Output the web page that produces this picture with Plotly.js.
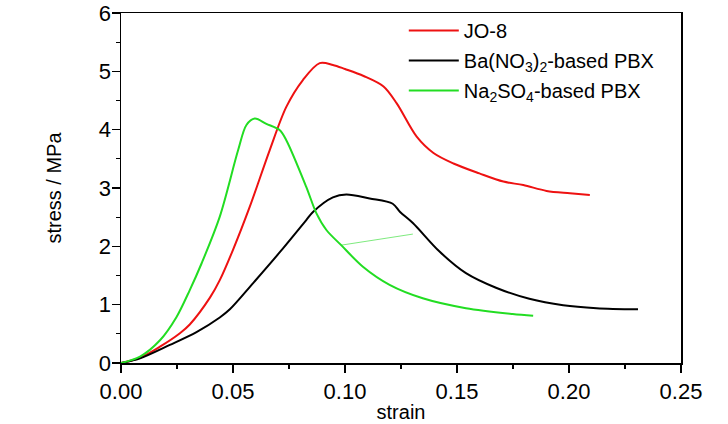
<!DOCTYPE html>
<html>
<head>
<meta charset="utf-8">
<script src="https://cdn.plot.ly/plotly-3.0.1.min.js"></script>
<style>
  html, body { margin: 0; padding: 0; background: #fff; }
  #chart { width: 728px; height: 424px; }
</style>
</head>
<body>
<div id="chart"></div>
<script>
// values
const jo8_strain = [0, 0.0085, 0.0174, 0.0263, 0.0307, 0.0397, 0.0441, 0.05, 0.0575, 0.0664, 0.0738, 0.0812, 0.0887, 0.0946, 0.1, 0.1083, 0.1172, 0.1231, 0.132, 0.1395, 0.1484, 0.160, 0.1707, 0.1796, 0.190, 0.2004, 0.2093]
const jo8_stress = [0, 0.09, 0.28, 0.51, 0.66, 1.12, 1.42, 1.94, 2.68, 3.65, 4.39, 4.85, 5.14, 5.11, 5.04, 4.92, 4.74, 4.45, 3.88, 3.60, 3.42, 3.25, 3.11, 3.05, 2.95, 2.91, 2.88]

const ba_strain = [0, 0.0085, 0.0218, 0.0337, 0.0441, 0.0486, 0.059, 0.0709, 0.0827, 0.0857, 0.0946, 0.1006, 0.111, 0.1213, 0.1246, 0.1303, 0.1422, 0.154, 0.1674, 0.1823, 0.1974, 0.2123, 0.2308]
const ba_stress = [0, 0.08, 0.31, 0.53, 0.78, 0.92, 1.37, 1.90, 2.45, 2.59, 2.84, 2.89, 2.82, 2.73, 2.59, 2.40, 1.91, 1.54, 1.29, 1.10, 0.99, 0.94, 0.92]

const na_strain = [0, 0.0085, 0.0174, 0.0248, 0.0307, 0.036, 0.0441, 0.0523, 0.056, 0.0597, 0.0649, 0.0709, 0.0738, 0.0827, 0.0872, 0.0917, 0.0983, 0.108, 0.1199, 0.1347, 0.154, 0.1748, 0.184]
const na_stress = [0, 0.11, 0.39, 0.79, 1.25, 1.71, 2.51, 3.65, 4.08, 4.19, 4.10, 3.99, 3.82, 3.02, 2.57, 2.28, 2.02, 1.65, 1.34, 1.11, 0.94, 0.84, 0.81]

// the faint stray green segment
const stray_strain = [0.0983, 0.1303]
const stray_stress = [2.02, 2.21]

const names = ['JO-8', 'Ba(NO<sub>3</sub>)<sub>2</sub>-based PBX', 'Na<sub>2</sub>SO<sub>4</sub>-based PBX']

const FONT = 'Liberation Sans, Arial, sans-serif'

function curve(x, y, name, color, group) {
    return {
        x: x, y: y, name: name,
        mode: 'lines',
        line: { color: color, width: 2, shape: 'spline', smoothing: 0.9 },
        legendgroup: group,
        hoverinfo: 'skip'
    }
}

var data = [
    curve(jo8_strain, jo8_stress, names[0], '#ee1111', 'a'),
    curve(ba_strain, ba_stress, names[1], '#000000', 'b'),
    curve(na_strain, na_stress, names[2], '#22dd22', 'c'),
    {
        x: stray_strain, y: stray_stress,
        mode: 'lines',
        line: { color: 'rgba(40,220,40,0.6)', width: 1 },
        showlegend: false,
        hoverinfo: 'skip'
    }
]

var axis_common = {
    showgrid: false,
    zeroline: false,
    showline: true,
    linecolor: '#000',
    linewidth: 1.5,
    mirror: true,
    ticks: 'outside',
    ticklen: 8,
    tickwidth: 1.2,
    tickcolor: '#000',
    tickfont: { family: FONT, size: 22, color: '#000' }
}

var layout = {
    width: 728,
    height: 424,
    margin: { l: 121, r: 47, t: 13, b: 61, autoexpand: false },
    paper_bgcolor: '#fff',
    plot_bgcolor: '#fff',
    font: { family: FONT, color: '#000' },
    xaxis: Object.assign({}, axis_common, {
        range: [0, 0.25],
        dtick: 0.05,
        tickformat: '.2f',
        minor: { ticks: 'outside', ticklen: 4, dtick: 0.025, tickcolor: '#000', tickwidth: 1.2 },
        title: { text: 'strain', font: { family: FONT, size: 20 }, standoff: 2 }
    }),
    yaxis: Object.assign({}, axis_common, {
        range: [0, 6],
        dtick: 1,
        ticklabelstandoff: -4,
        minor: { ticks: 'outside', ticklen: 4, dtick: 0.5, tickcolor: '#000', tickwidth: 1.2 },
        title: { text: 'stress / MPa', font: { family: FONT, size: 20 }, standoff: 32 }
    }),
    legend: {
        x: 0.505, y: 1.006,
        xanchor: 'left', yanchor: 'top',
        bgcolor: 'rgba(0,0,0,0)',
        font: { family: FONT, size: 20, color: '#000' },
        itemwidth: 50,
        traceorder: 'grouped',
        tracegroupgap: 1
    },
    showlegend: true
}

Plotly.newPlot('chart', data, layout, { displayModeBar: false, staticPlot: true })
</script>
</body>
</html>
